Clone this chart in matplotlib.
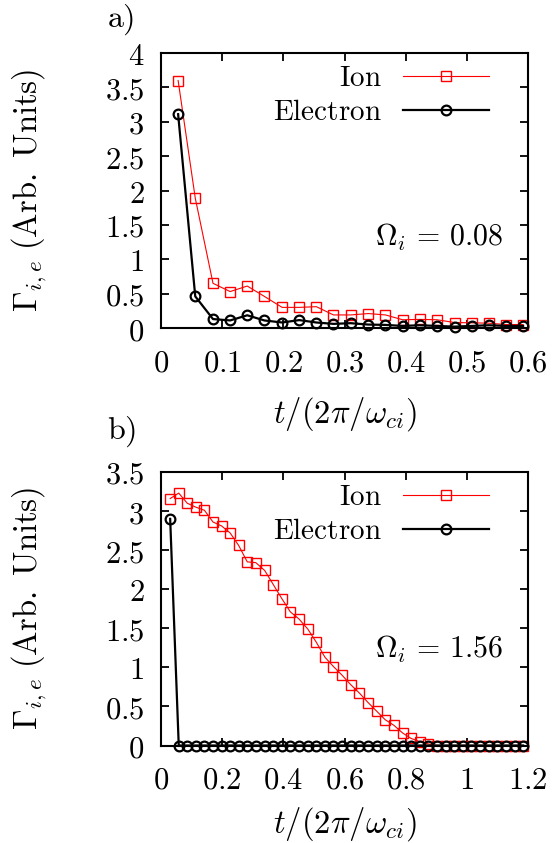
import numpy as np
import matplotlib
matplotlib.use("Agg")
import matplotlib.pyplot as plt
from matplotlib.ticker import FuncFormatter, MultipleLocator

plt.rcParams["mathtext.fontset"] = "cm"
plt.rcParams["font.family"] = "serif"
plt.rcParams["font.serif"] = ["DejaVu Serif"]

# panel a) Omega_i = 0.08
t_a = [0.028, 0.056, 0.085, 0.113, 0.141, 0.169, 0.198, 0.226, 0.254, 0.282,
       0.310, 0.339, 0.367, 0.395, 0.423, 0.451, 0.480, 0.508, 0.536, 0.564, 0.592]
ion_a = [3.60, 1.89, 0.65, 0.53, 0.61, 0.46, 0.30, 0.30, 0.31, 0.19,
         0.19, 0.21, 0.19, 0.12, 0.125, 0.12, 0.08, 0.075, 0.07, 0.05, 0.05]
ele_a = [3.11, 0.46, 0.13, 0.11, 0.185, 0.11, 0.08, 0.115, 0.08, 0.06,
         0.07, 0.05, 0.045, 0.03, 0.04, 0.03, 0.02, 0.03, 0.04, 0.03, 0.03]

# panel b) Omega_i = 1.56
t_b = [0.030, 0.058, 0.086, 0.114, 0.142, 0.170, 0.198, 0.226, 0.254, 0.282,
       0.310, 0.339, 0.367, 0.395, 0.423, 0.451, 0.480, 0.508, 0.536, 0.564,
       0.592, 0.620, 0.649, 0.677, 0.705, 0.733, 0.761, 0.790, 0.818, 0.846,
       0.874, 0.902, 0.931, 0.959, 0.987, 1.015, 1.043, 1.072, 1.100, 1.128,
       1.156, 1.184]
ion_b = [3.16, 3.23, 3.10, 3.05, 3.01, 2.86, 2.81, 2.72, 2.56, 2.35,
         2.34, 2.24, 2.06, 1.88, 1.71, 1.62, 1.49, 1.32, 1.13, 1.01,
         0.90, 0.78, 0.67, 0.55, 0.44, 0.33, 0.26, 0.16, 0.09, 0.05,
         0.02, 0.0, 0.0, 0.0, 0.0, 0.0, 0.0, 0.0, 0.0, 0.0,
         0.0, 0.0]
ele_b = [2.90] + [0.0] * 41

panels = [
    dict(t=t_a, ion=ion_a, ele=ele_a, xmax=0.6, xstep=0.1, ymax=4.0,
         omega=r"$\Omega_i\,=\,0.08$", tag=r"$\mathrm{a)}$"),
    dict(t=t_b, ion=ion_b, ele=ele_b, xmax=1.2, xstep=0.2, ymax=3.5,
         omega=r"$\Omega_i\,=\,1.56$", tag=r"$\mathrm{b)}$"),
]

W, H = 554, 843
fig = plt.figure(figsize=(W / 100, H / 100), dpi=100)

# axes boxes in pixels: (left, top, right, bottom)
boxes = [(161, 53, 528, 328), (161, 472, 528, 745.5)]
tag_y = [20, 432]
omega_y = [0.331, 0.35]
xlab_y = [-0.311, -0.288]

FS_TICK = 22
FS_LAB = 23.5
FS_LEG = 21
FS_OM = 21.5
FS_TAG = 23

def fmt(v, pos):
    return f"${v:g}$"

for p, (l, t, r, b), ty, oy, xy in zip(panels, boxes, tag_y, omega_y, xlab_y):
    ax = fig.add_axes([l / W, 1 - b / H, (r - l) / W, (b - t) / H])
    ax.plot(p["t"], p["ion"], color="red", lw=0.8, marker="s", ms=7.5,
            mfc="none", mec="red", mew=1.0, label=r"$\mathrm{Ion}$", clip_on=False)
    ax.plot(p["t"], p["ele"], color="black", lw=1.6, marker="o", ms=7,
            mfc="none", mec="black", mew=1.6, label=r"$\mathrm{Electron}$", clip_on=False)
    ax.set_xlim(0, p["xmax"])
    ax.set_ylim(0, p["ymax"])
    ax.xaxis.set_major_locator(MultipleLocator(p["xstep"]))
    ax.yaxis.set_major_locator(MultipleLocator(0.5))
    ax.xaxis.set_major_formatter(FuncFormatter(fmt))
    ax.yaxis.set_major_formatter(FuncFormatter(fmt))
    ax.tick_params(direction="in", top=True, right=True, length=6, width=1.3,
                   labelsize=FS_TICK)
    ax.tick_params(axis="x", pad=14)
    ax.tick_params(axis="y", pad=12)
    for s in ax.spines.values():
        s.set_linewidth(1.5)

    ax.set_xlabel(r"$t/(2\pi/\omega_{ci})$", fontsize=FS_LAB)
    ax.xaxis.set_label_coords(0.5, xy)
    ax.xaxis.label.set_va("center")
    ax.set_ylabel(r"$\Gamma_{i,e}\ \mathrm{(Arb.\ Units)}$", fontsize=FS_LAB)
    ax.yaxis.set_label_coords(-0.36, 0.5)
    ax.yaxis.label.set_va("center")

    ax.text(0.932, oy, p["omega"], transform=ax.transAxes, ha="right",
            va="center", fontsize=FS_OM)
    fig.text(107 / W, 1 - ty / H, p["tag"], ha="left", va="center",
             fontsize=FS_TAG)

    ax.legend(loc="upper right", bbox_to_anchor=(0.894, 0.96), frameon=False,
              markerfirst=False, handlelength=2.95, handletextpad=0.72,
              fontsize=FS_LEG, numpoints=1, labelspacing=0.2, borderpad=0,
              borderaxespad=0)

fig.savefig("out.png", dpi=100)
